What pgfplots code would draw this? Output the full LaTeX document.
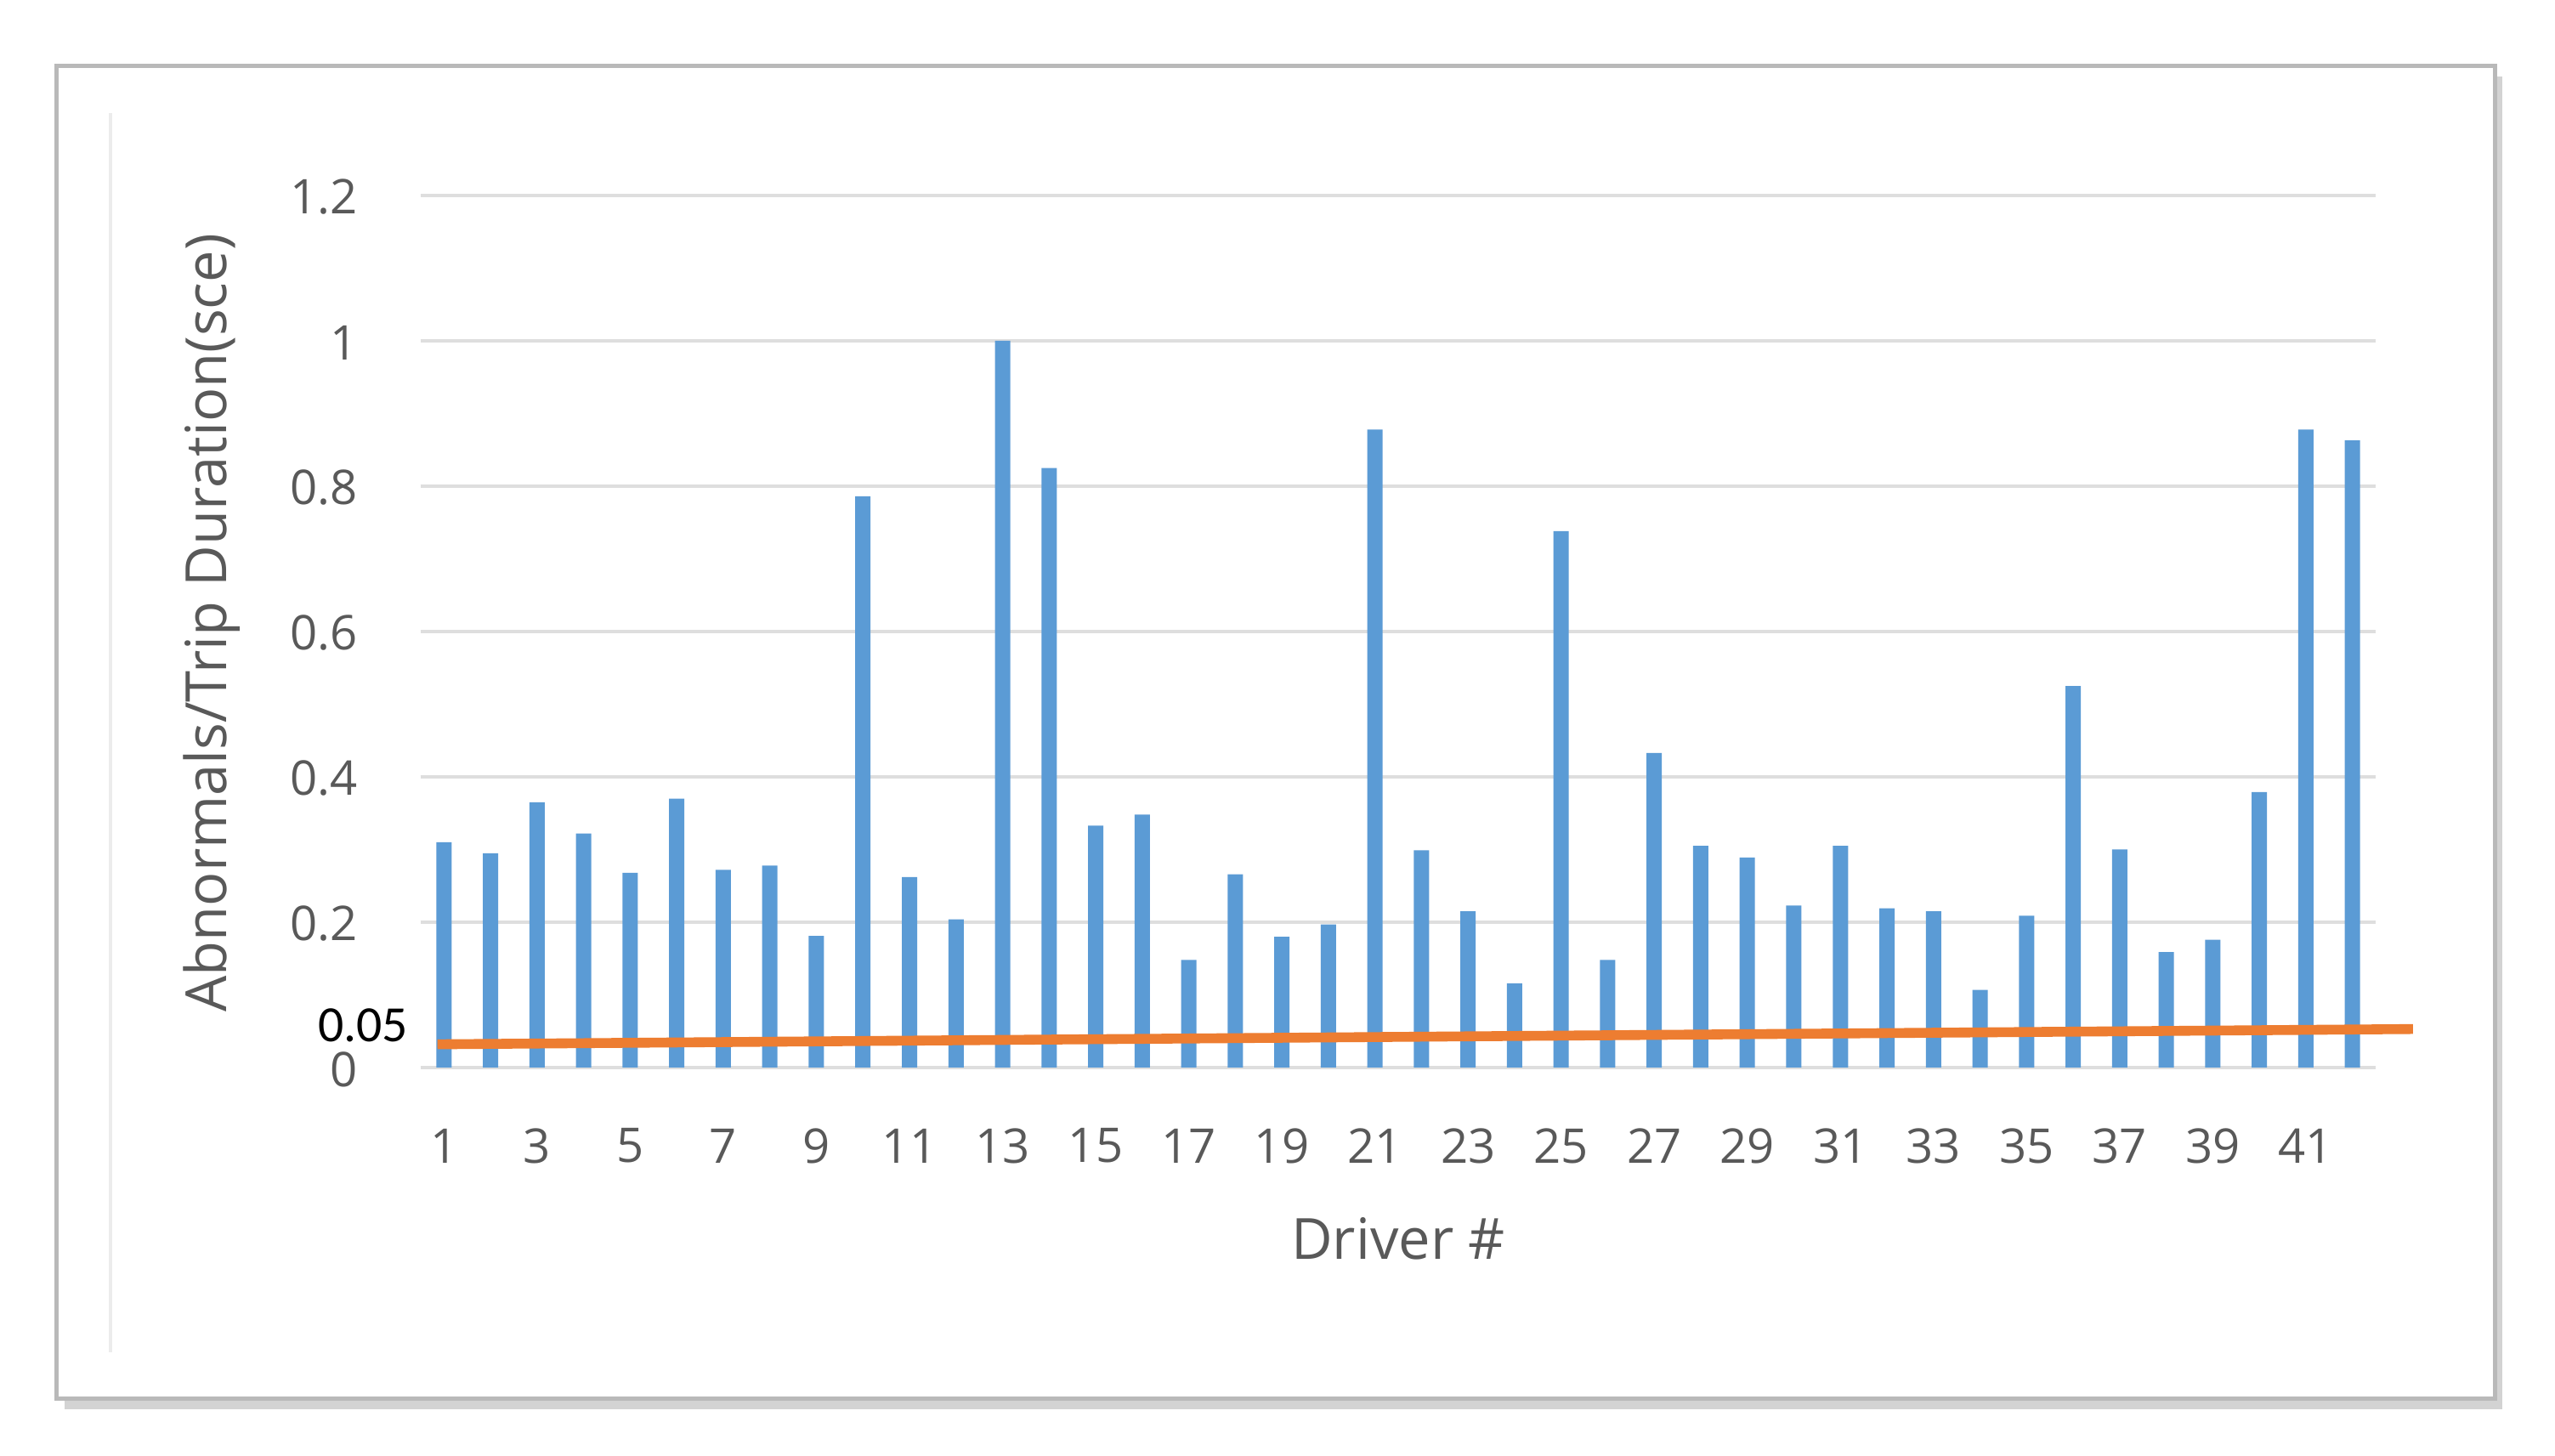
\documentclass[border=0pt]{standalone}
\usepackage{pgfplots}
\pgfplotsset{compat=1.18}
\usepackage{graphicx}
\usepackage{fontspec}
\setmainfont{Open Sans}
\newfontfamily\carlito{Carlito}
\usetikzlibrary{shadows}
\definecolor{barblue}{HTML}{5B9BD5}
\definecolor{lineorange}{HTML}{ED7D31}
\definecolor{txtgray}{HTML}{595959}
\definecolor{gridgray}{HTML}{DEDEDE}
\begin{document}
\begin{tikzpicture}
\path[use as bounding box] (-4.95,-4.57) rectangle (25.11,12.56);
% chart frame
\draw[draw=gray!55, line width=0.05cm, fill=white,
      drop shadow={shadow xshift=0.09cm, shadow yshift=-0.12cm, opacity=0.35}]
      (-4.28,-3.90) rectangle (24.40,11.78);
\draw[gray!15, line width=0.04cm] (-3.65,-3.35) -- (-3.65,11.23);
\begin{axis}[
  at={(0,0)}, anchor=south west,
  scale only axis, width=23.0cm, height=10.26cm,
  xmin=0.5, xmax=42.5, ymin=0, ymax=1.2,
  clip=false,
  axis line style={draw=none},
  tick style={draw=none},
  major tick length=0pt,
  ymajorgrids,
  major grid style={line width=1.3pt, gridgray},
  xtick={1,3,...,41},
  ytick={0,0.2,0.4,0.6,0.8,1,1.2},
  yticklabels={0,0.2,0.4,0.6,0.8,1,1.2},
  /pgf/number format/assume math mode=true,
  ticklabel style={font=\fontsize{16}{19}\selectfont, text=txtgray},
  yticklabel style={anchor=east, inner sep=0pt, xshift=-0.74cm, yshift=-0.02cm},
  xticklabel style={anchor=center, yshift=-0.92cm},
  xlabel={Driver \#},
  ylabel={Abnormals/Trip Duration(sce)},
  label style={font=\fontsize{19}{22}\selectfont, text=txtgray},
  xlabel style={at={(axis description cs:0.5,-0.196)}, anchor=center},
  ylabel style={at={(axis description cs:-0.107,0.51)}, anchor=center, rotate=0},
]
\addplot[ybar, bar width=0.18cm, fill=barblue, draw=none] coordinates {
(1,0.310) (2,0.295) (3,0.365) (4,0.322) (5,0.268) (6,0.370) (7,0.272)
(8,0.278) (9,0.181) (10,0.786) (11,0.262) (12,0.204) (13,1.000) (14,0.825)
(15,0.333) (16,0.348) (17,0.148) (18,0.266) (19,0.180) (20,0.197) (21,0.878)
(22,0.299) (23,0.215) (24,0.116) (25,0.738) (26,0.148) (27,0.433) (28,0.305)
(29,0.289) (30,0.223) (31,0.305) (32,0.219) (33,0.215) (34,0.107) (35,0.209)
(36,0.525) (37,0.300) (38,0.159) (39,0.176) (40,0.379) (41,0.878) (42,0.863)
};
\addplot[lineorange, line width=3.3pt, mark=none] coordinates {
(0.86,0.032) (43.3,0.053)
};
\end{axis}
\node[font=\carlito\fontsize{17}{20}\selectfont, text=black, inner sep=0pt] at (-0.68,0.50) {0.05};
\end{tikzpicture}
\end{document}
